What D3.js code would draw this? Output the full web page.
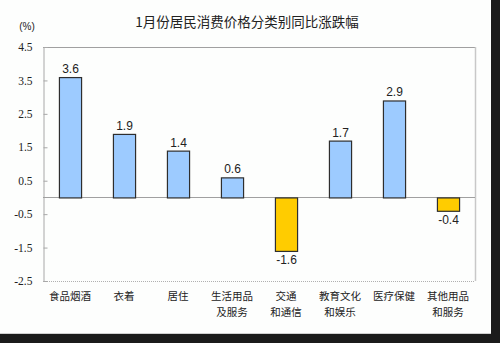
<!DOCTYPE html>
<html>
<head>
<meta charset="utf-8">
<script src="https://cdn.jsdelivr.net/npm/d3@7/dist/d3.min.js"></script>
<style>
  html, body { margin: 0; padding: 0; background: #1b1b1b; }
  svg { display: block; }
</style>
</head>
<body>
<script>
// CPI year-on-year change by category, January
const categories = [
  ["食品烟酒"], ["衣着"], ["居住"], ["生活用品", "及服务"],
  ["交通", "和通信"], ["教育文化", "和娱乐"], ["医疗保健"], ["其他用品", "和服务"]
];
const values = [3.6, 1.9, 1.4, 0.6, -1.6, 1.7, 2.9, -0.4];
const yTicks = [4.5, 3.5, 2.5, 1.5, 0.5, -0.5, -1.5, -2.5];
const title = "1月份居民消费价格分类别同比涨跌幅";
const unit = "(%)";

const W = 500, H = 343;
const plot = { left: 43, right: 475, top: 47, bottom: 281 };
const fmt = d => d.toFixed(1);

const svg = d3.select("body").append("svg").attr("width", W).attr("height", H);

// white card, dark frame shows on right and bottom
svg.append("rect").attr("x", 0).attr("y", 0).attr("width", 491).attr("height", 334).attr("fill", "#fdfefd");
svg.append("line").attr("x1", 0).attr("x2", 491).attr("y1", 333.5).attr("y2", 333.5).attr("stroke", "#d0d0d0");

const keys = categories.map((c, i) => i);
const x = d3.scaleBand().domain(keys).range([plot.left, plot.right]).paddingInner(0.59).paddingOuter(0.295);
const y = d3.scaleLinear().domain([-2.5, 4.5]).range([plot.bottom, plot.top]);

// plot frame
svg.append("line").attr("x1", plot.left).attr("x2", plot.right).attr("y1", plot.top + 0.5).attr("y2", plot.top + 0.5).attr("stroke", "#a0a0a0");
svg.append("line").attr("x1", plot.right + 0.5).attr("x2", plot.right + 0.5).attr("y1", plot.top).attr("y2", plot.bottom).attr("stroke", "#c8c8c8").attr("stroke-width", 1.5);
svg.append("line").attr("x1", plot.left).attr("x2", plot.right).attr("y1", plot.bottom + 0.5).attr("y2", plot.bottom + 0.5).attr("stroke", "#b0b0b0").attr("stroke-dasharray", "1,1");

// left axis with inward ticks
const yAxis = d3.axisRight(y).tickValues(yTicks).tickSize(4).tickFormat(fmt);
const ax = svg.append("g").attr("transform", `translate(${plot.left + 0.5},0)`).call(yAxis);
ax.select(".domain").attr("stroke", "#a8a8a8");
ax.selectAll(".tick line").attr("stroke", "#a8a8a8");
ax.selectAll(".tick text")
  .attr("x", -11).attr("text-anchor", "end")
  .attr("font-family", "'Liberation Serif', serif").attr("font-size", 11.5)
  .attr("fill", "#222");

// zero line
svg.append("line").attr("x1", plot.left).attr("x2", plot.right)
  .attr("y1", Math.round(y(0)) + 0.5).attr("y2", Math.round(y(0)) + 0.5)
  .attr("stroke", "#a0a0a0");

// bars
svg.append("g").selectAll("rect").data(values).join("rect")
  .attr("x", (d, i) => x(i) + 0.5)
  .attr("y", d => Math.min(y(d), y(0)) + 0.5)
  .attr("width", x.bandwidth())
  .attr("height", d => Math.abs(y(d) - y(0)))
  .attr("fill", d => d >= 0 ? "#9dcbff" : "#ffcc00")
  .attr("stroke", "#2e2e2e").attr("stroke-width", 1.2);

// value labels
svg.append("g").selectAll("text").data(values).join("text")
  .attr("x", (d, i) => x(i) + x.bandwidth() / 2 + 0.5)
  .attr("y", d => d >= 0 ? y(d) - 4 : y(d) + 13)
  .attr("text-anchor", "middle")
  .attr("font-family", "'Liberation Sans', Arial, sans-serif").attr("font-size", 12)
  .attr("fill", "#222")
  .text(fmt);

// category labels, one text per line
const catLines = categories.flatMap((lines, i) => lines.map((t, j) => ({ i, j, t })));
svg.append("g").selectAll("text").data(catLines).join("text")
  .attr("x", d => x(d.i) + x.bandwidth() / 2)
  .attr("y", d => 300 + d.j * 15.5)
  .attr("text-anchor", "middle")
  .attr("font-family", "'Noto Sans CJK SC', sans-serif").attr("font-size", 10.5)
  .attr("fill", "#222")
  .text(d => d.t);

// title and unit
svg.append("text").attr("x", 247).attr("y", 27).attr("text-anchor", "middle")
  .attr("font-family", "'Noto Sans CJK SC', sans-serif").attr("font-size", 13.5)
  .attr("fill", "#222").text(title);
svg.append("text").attr("x", 27).attr("y", 30).attr("text-anchor", "middle")
  .attr("font-family", "'Liberation Sans', Arial, sans-serif").attr("font-size", 10)
  .attr("fill", "#222").text(unit);
</script>
</body>
</html>
